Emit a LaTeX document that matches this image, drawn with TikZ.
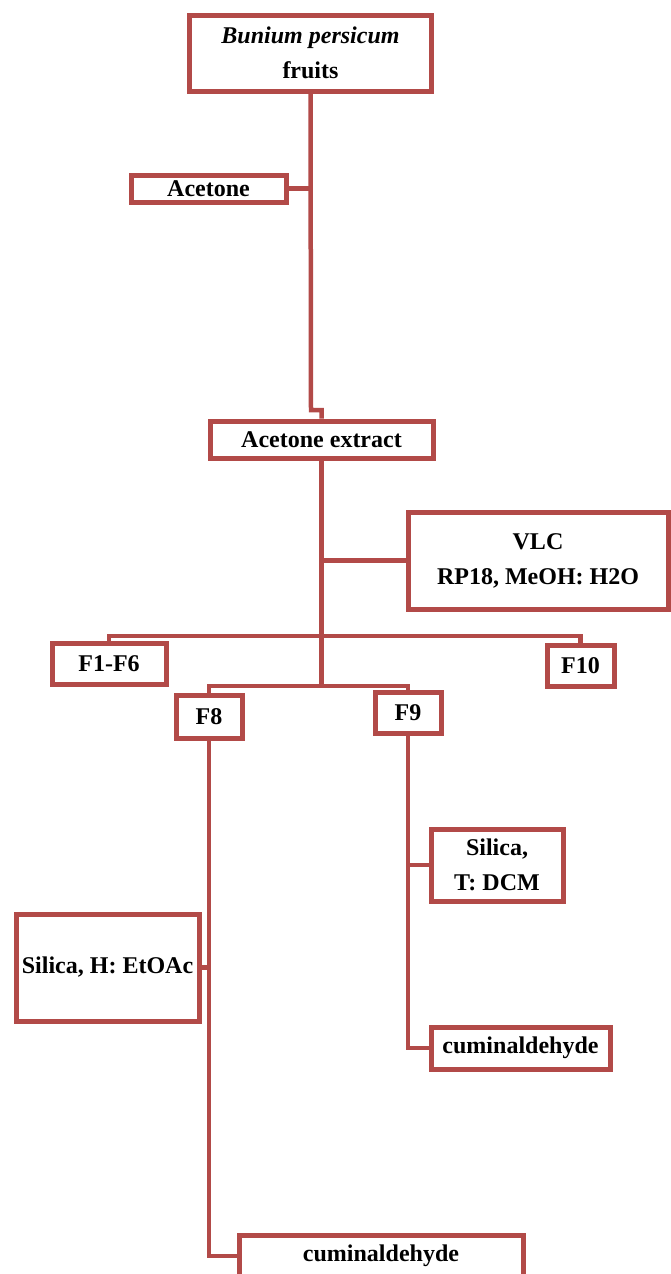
\documentclass[tikz,border=0pt]{standalone}
\usepackage{fontspec}
\setmainfont{Liberation Serif}
\usepackage{tikz}
\usetikzlibrary{positioning}
\definecolor{brick}{RGB}{178,74,72}

\begin{document}
\begin{tikzpicture}[
    x=1pt, y=1pt,
    box/.style={draw=brick, line width=5pt, rectangle, inner sep=0pt, align=center,
        fill=white, font=\fontsize{24}{35}\selectfont\bfseries},
    link/.style={draw=brick, line width=4.5pt}
]
\useasboundingbox (0,0) rectangle (670,-1274);
\node[box, minimum width=242, minimum height=76] (fruits) at (310.5,-53) {\textit{Bunium persicum}\\fruits};
\node[box, minimum width=155, minimum height=27] (acetone) at (208.5,-188.5) {Acetone};
\node[box, minimum width=223, minimum height=37] (extract) at (321.5,-439.5) {Acetone extract};
\node[box, minimum width=260, minimum height=97] (vlc) at (538,-560.5) {VLC\\RP18, MeOH: H2O};
\node[box, minimum width=114, minimum height=41] (f16) at (109,-663.5) {F1-F6};
\node[box, minimum width=67, minimum height=41] (f10) at (580.5,-665.5) {F10};
\node[box, minimum width=66, minimum height=43] (f8) at (209,-716.5) {F8};
\node[box, minimum width=66, minimum height=41] (f9) at (408,-712.5) {F9};
\node[box, minimum width=132, minimum height=72] (silicaT) at (497,-865) {Silica,\\T: DCM};
\node[box, minimum width=183, minimum height=107] (silicaH) at (107.5,-967.5) {Silica, H: EtOAc};
\node[box, minimum width=179, minimum height=42] (cumT) at (520.5,-1048) {cuminaldehyde};
\node[box, minimum width=284, minimum height=42] (cumH) at (381,-1256) {cuminaldehyde};

% trunk from the fruits to the extract
\coordinate (jog) at (311,-410);
\draw[link] (fruits.south) -- (jog) -| (extract.north);
\draw[link] (acetone.east) -- (acetone.east -| fruits.south);

% fractions of the VLC
\coordinate (split1) at (321.5,-636);
\coordinate (split2) at (321.5,-686);
\draw[link] (extract.south) -- (split2);
\draw[link] (vlc.west) -- (vlc.west -| extract.south);
\draw[link] (split1) -| (f16.north);
\draw[link] (split1) -| (f10.north);
\draw[link] (split2) -| (f8.north);
\draw[link] (split2) -| (f9.north);

% columns of F8 and F9
\draw[link] (f8.south) |- (cumH.west);
\draw[link] (silicaH.east) -- (silicaH.east -| f8.south);
\draw[link] (f9.south) |- (cumT.west);
\draw[link] (silicaT.west) -- (silicaT.west -| f9.south);
\end{tikzpicture}
\end{document}
